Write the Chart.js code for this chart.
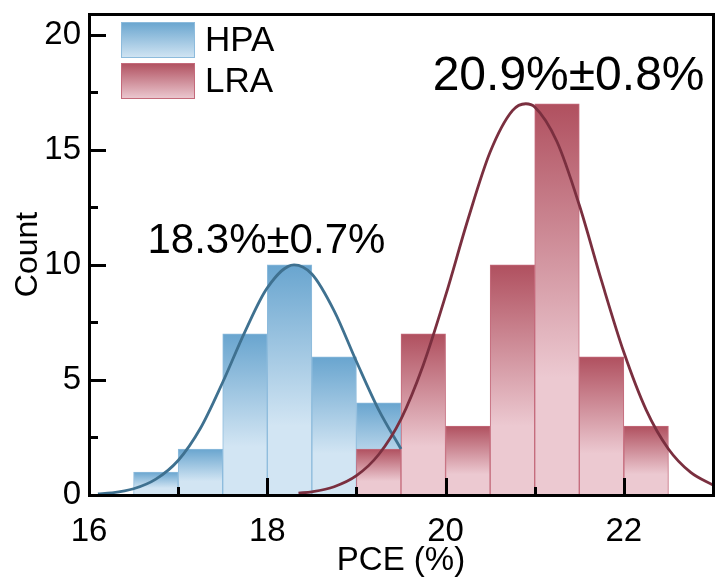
<!DOCTYPE html>
<html>
<head>
<meta charset="utf-8">
<script src="https://cdn.jsdelivr.net/npm/chart.js@4.4.1/dist/chart.umd.min.js"></script>
<style>
  html, body { margin: 0; padding: 0; background: #fff; }
  #wrap { width: 717px; height: 586px; }
</style>
</head>
<body>
<div id="wrap"><canvas id="chart" width="717" height="586"></canvas></div>
<script>
// histogram bins (bin centres, width 0.5) and counts
const seriesNames = ['HPA', 'LRA'];
const hpaBins = [16.75, 17.25, 17.75, 18.25, 18.75, 19.25];
const hpaCounts = [1, 2, 7, 10, 6, 4];
const lraBins = [19.25, 19.75, 20.25, 20.75, 21.25, 21.75, 22.25];
const lraCounts = [2, 7, 3, 10, 17, 6, 3];

// fit curves
const hpaFitX = [16.1, 16.25, 16.5, 16.75, 17, 17.25, 17.5, 17.75, 18, 18.3, 18.5, 18.75, 19, 19.25, 19.5];
const hpaFitY = [0.05, 0.09, 0.27, 0.69, 1.5, 2.9, 4.9, 7.1, 9.0, 10, 9.6, 8.0, 5.8, 3.7, 2.0];
const lraFitX = [18.35, 18.5, 18.75, 19, 19.25, 19.5, 19.75, 20, 20.25, 20.5, 20.75, 20.9, 21, 21.25, 21.5, 21.75, 22, 22.25, 22.5, 22.75, 23];
const lraFitY = [0.08, 0.14, 0.36, 0.84, 1.76, 3.3, 5.65, 8.66, 11.96, 14.9, 16.7, 17, 16.86, 15.35, 12.6, 9.3, 6.2, 3.7, 2.0, 0.98, 0.43];

// fit result labels
const fitLabels = ['18.3%\u00B10.7%', '20.9%\u00B10.8%'];

// axis ticks
const xMin = 16, xMax = 23, xStep = 1, xLabelEvery = 2;
const yMin = 0, yMax = 20.9, yStep = 2.5, yLabelEvery = 5;

const FONT = "'Liberation Sans', Arial, sans-serif";

const BLUE_TOP = '#69a5cf', BLUE_BOT = '#d2e5f3', BLUE_EDGE = '#8dbbdc';
const RED_TOP = '#b0505f', RED_BOT = '#ecc9d1', RED_EDGE = '#c46a7b';

function barGradient(top, bot) {
  return (ctx) => {
    const chart = ctx.chart;
    if (!chart.chartArea || ctx.type !== 'data') return top;
    const yScale = chart.scales.y;
    const y0 = yScale.getPixelForValue(ctx.raw.y);
    const y1 = yScale.getPixelForValue(0);
    const g = chart.ctx.createLinearGradient(0, y0, 0, y1);
    g.addColorStop(0, top);
    g.addColorStop(0.7, bot);
    g.addColorStop(1, bot);
    return g;
  };
}

const toPoints = (xs, ys) => xs.map((x, i) => ({ x: x, y: ys[i] }));

// legend and fit labels, then frame and inward ticks
const decorations = {
  id: 'decorations',
  afterDraw(chart) {
    const { ctx, scales } = chart;
    const sx = scales.x, sy = scales.y;
    ctx.save();

    // legend
    const items = [
      { label: chart.data.datasets[0].label, top: BLUE_TOP, bot: BLUE_BOT, edge: BLUE_EDGE },
      { label: chart.data.datasets[1].label, top: RED_TOP, bot: RED_BOT, edge: RED_EDGE }
    ];
    items.forEach((it, i) => {
      const bx = 121, by = 22 + i * 41, bw = 74, bh = 36;
      const g = ctx.createLinearGradient(0, by, 0, by + bh);
      g.addColorStop(0, it.top);
      g.addColorStop(1, it.bot);
      ctx.fillStyle = g;
      ctx.fillRect(bx, by, bw, bh);
      ctx.lineWidth = 1;
      ctx.strokeStyle = it.edge;
      ctx.strokeRect(bx + 0.5, by + 0.5, bw - 1, bh - 1);
      ctx.fillStyle = '#000';
      ctx.font = '35px ' + FONT;
      ctx.textBaseline = 'middle';
      ctx.textAlign = 'left';
      ctx.fillText(it.label, 205, by + bh / 2 + 1);
    });

    // fit labels
    ctx.fillStyle = '#000';
    ctx.textAlign = 'center';
    ctx.textBaseline = 'alphabetic';
    ctx.font = '42px ' + FONT;
    ctx.fillText(fitLabels[0], sx.getPixelForValue(17.99), 253);
    ctx.font = '48px ' + FONT;
    ctx.fillText(fitLabels[1], sx.getPixelForValue(21.38), 90);

    // frame and inward ticks
    const L = Math.round(sx.getPixelForValue(xMin)), R = Math.round(sx.getPixelForValue(xMax));
    const T = Math.round(sy.getPixelForValue(yMax)), B = Math.round(sy.getPixelForValue(yMin));
    const lw = 3;
    ctx.fillStyle = '#000000';
    ctx.globalAlpha = 1;
    ctx.globalCompositeOperation = 'source-over';
    sx.ticks.forEach(t => {
      const px = Math.round(sx.getPixelForValue(t.value));
      const len = (t.value % xLabelEvery === 0) ? 17 : 8;
      ctx.fillRect(px - 1, B - len, lw, len);
    });
    sy.ticks.forEach(t => {
      const py = Math.round(sy.getPixelForValue(t.value));
      const len = (t.value % yLabelEvery === 0) ? 17 : 9;
      ctx.fillRect(L, py - 1, len, lw);
    });
    ctx.fillRect(L - 1, T - 1, R - L + lw, lw);
    ctx.fillRect(L - 1, B - 1, R - L + lw, lw);
    ctx.fillRect(L - 1, T - 1, lw, B - T + lw);
    ctx.fillRect(R - 1, T - 1, lw, B - T + lw);
    ctx.restore();
  }
};

new Chart(document.getElementById('chart'), {
  type: 'bar',
  data: {
    datasets: [
      {
        label: seriesNames[0],
        data: toPoints(hpaBins, hpaCounts),
        backgroundColor: barGradient(BLUE_TOP, BLUE_BOT),
        borderColor: BLUE_EDGE,
        borderWidth: 1,
        barPercentage: 1,
        categoryPercentage: 1,
        grouped: false,
        order: 3
      },
      {
        label: seriesNames[1],
        data: toPoints(lraBins, lraCounts),
        backgroundColor: barGradient(RED_TOP, RED_BOT),
        borderColor: RED_EDGE,
        borderWidth: 1,
        barPercentage: 1,
        categoryPercentage: 1,
        grouped: false,
        order: 2
      },
      {
        type: 'line',
        label: 'HPA fit',
        data: toPoints(hpaFitX, hpaFitY),
        borderColor: '#3f7190',
        borderWidth: 2.8,
        pointRadius: 0,
        cubicInterpolationMode: 'monotone',
        fill: false,
        order: 1
      },
      {
        type: 'line',
        label: 'LRA fit',
        data: toPoints(lraFitX, lraFitY),
        borderColor: '#7a2f3f',
        borderWidth: 2.8,
        pointRadius: 0,
        cubicInterpolationMode: 'monotone',
        fill: false,
        order: 0
      }
    ]
  },
  options: {
    responsive: false,
    animation: false,
    devicePixelRatio: 1,
    layout: { padding: { top: 14, right: 4, left: 0, bottom: 0 } },
    plugins: {
      legend: { display: false },
      tooltip: { enabled: false }
    },
    scales: {
      x: {
        type: 'linear',
        offset: false,
        min: xMin,
        max: xMax,
        grid: { display: false, drawTicks: false },
        border: { display: false },
        ticks: {
          stepSize: xStep,
          includeBounds: false,
          autoSkip: false,
          maxRotation: 0,
          padding: 17,
          color: '#000',
          font: { family: FONT, size: 33 },
          callback: v => (v % xLabelEvery === 0 ? String(v) : '')
        },
        title: {
          display: true,
          text: 'PCE (%)',
          color: '#000',
          font: { family: FONT, size: 33 },
          padding: { top: 0, bottom: 5 }
        },
        afterFit: s => { s.height = 91; s.paddingLeft = 0; s.paddingRight = 0; }
      },
      y: {
        min: yMin,
        max: yMax,
        grid: { display: false, drawTicks: false },
        border: { display: false },
        ticks: {
          stepSize: yStep,
          includeBounds: false,
          autoSkip: false,
          padding: 8,
          color: '#000',
          font: { family: FONT, size: 33 },
          callback: v => (v % yLabelEvery === 0 ? String(v) : '')
        },
        title: {
          display: true,
          text: 'Count',
          color: '#000',
          font: { family: FONT, size: 32 },
          padding: { top: 9, bottom: 0 }
        },
        afterFit: s => { s.width = 89; s.paddingTop = 0; s.paddingBottom = 0; }
      }
    }
  },
  plugins: [decorations]
});
</script>
</body>
</html>
